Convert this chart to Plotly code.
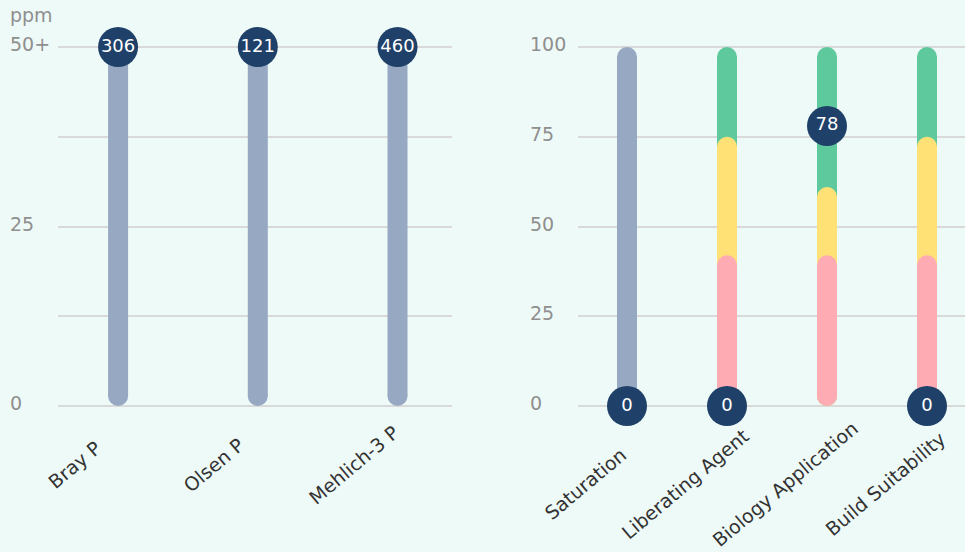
import plotly.graph_objects as go

# ---- data ----
left_categories = ["Bray P", "Olsen P", "Mehlich-3 P"]
left_values = [306, 121, 460]
left_cap = 50
left_tick_vals = [0, 25, 50]
left_tick_text = ["0", "25", "50+"]
left_unit = "ppm"

right_categories = ["Saturation", "Liberating Agent", "Biology Application", "Build Suitability"]
right_gray_top = [100, None, None, None]
right_green_top = [None, 100, 100, 100]
right_yellow_top = [None, 75, 61, 75]
right_pink_top = [None, 42, 42, 42]
right_marker_values = [0, 0, 78, 0]
right_tick_vals = [0, 25, 50, 75, 100]

# ---- style ----
W, H = 965, 552
Y_TOP_PX, Y_ZERO_PX = 47, 406        # pixel rows of the top and zero gridlines
PAD = 3                              # px of axis padding so edge gridlines are drawn
MT, MB = Y_TOP_PX - PAD, H - Y_ZERO_PX - PAD
PLOT_H = H - MT - MB
SPAN_PX = Y_ZERO_PX - Y_TOP_PX
BG = "#eefaf7"
GRID = "#d9d9d9"
NAVY = "#1f4068"
GRAY_BAR = "#97a9c2"
GREEN = "#5ec99d"
YELLOW = "#ffe176"
PINK = "#ffabb4"
TICK_COLOR = "#8f8f8f"
LABEL_COLOR = "#333333"
FONT = "DejaVu Sans"
FS = 19
BAR_W = 20

fig = go.Figure()


def yrange(top):
    u = top / SPAN_PX
    return [-PAD * u, top + PAD * u]


def add_bars(cats, tops, color, xaxis, yaxis, ytop):
    r = (BAR_W / 2) * ytop / SPAN_PX
    xs, ys = [], []
    for c, t in zip(cats, tops):
        if t is None:
            continue
        xs += [c, c, None]
        ys += [r, t - r, None]
    fig.add_trace(go.Scatter(
        x=xs, y=ys, mode="lines+markers",
        line=dict(color=color, width=BAR_W),
        marker=dict(color=color, size=BAR_W, line=dict(width=0)),
        xaxis=xaxis, yaxis=yaxis, hoverinfo="skip", showlegend=False,
        cliponaxis=False,
    ))


def add_markers(cats, ys, labels, xaxis, yaxis):
    fig.add_trace(go.Scatter(
        x=cats, y=ys, mode="markers+text", text=labels,
        textposition="middle center",
        textfont=dict(color="white", size=18, family=FONT),
        marker=dict(color=NAVY, size=40, line=dict(width=0)),
        xaxis=xaxis, yaxis=yaxis, hoverinfo="skip", showlegend=False,
        cliponaxis=False,
    ))


# left panel
add_bars(left_categories, [left_cap] * len(left_categories), GRAY_BAR, "x", "y", 50)
add_markers(left_categories, [min(v, left_cap) for v in left_values],
            [str(v) for v in left_values], "x", "y")

# right panel
add_bars(right_categories, right_gray_top, GRAY_BAR, "x2", "y2", 100)
add_bars(right_categories, right_green_top, GREEN, "x2", "y2", 100)
add_bars(right_categories, right_yellow_top, YELLOW, "x2", "y2", 100)
add_bars(right_categories, right_pink_top, PINK, "x2", "y2", 100)
add_markers(right_categories, right_marker_values,
            [str(v) for v in right_marker_values], "x2", "y2")


def paper_y(px):
    return (H - MB - px) / PLOT_H


annotations = []
for v, t in zip(left_tick_vals, left_tick_text):
    annotations.append(dict(x=8 / W, xref="paper", xanchor="left", y=v, yref="y",
                            yanchor="middle", yshift=3, text=t, showarrow=False,
                            font=dict(color=TICK_COLOR, size=FS, family=FONT)))
for v in right_tick_vals:
    annotations.append(dict(x=528 / W, xref="paper", xanchor="left", y=v, yref="y2",
                            yanchor="middle", yshift=3, text=str(v), showarrow=False,
                            font=dict(color=TICK_COLOR, size=FS, family=FONT)))
annotations.append(dict(x=8 / W, xref="paper", xanchor="left", y=paper_y(15),
                        yref="paper", yanchor="middle", text=left_unit, showarrow=False,
                        font=dict(color=TICK_COLOR, size=FS, family=FONT)))

for c in left_categories:
    annotations.append(dict(x=c, xref="x", y=paper_y(465), yref="paper",
                            xanchor="center", yanchor="middle", xshift=-44,
                            textangle=-40, text=c, showarrow=False,
                            font=dict(color=LABEL_COLOR, size=FS, family=FONT)))
for c in right_categories:
    annotations.append(dict(x=c, xref="x2", y=paper_y(484), yref="paper",
                            xanchor="center", yanchor="middle", xshift=-42,
                            textangle=-40, text=c, showarrow=False,
                            font=dict(color=LABEL_COLOR, size=FS, family=FONT)))

xaxis_common = dict(showline=False, zeroline=False, ticks="", showticklabels=False,
                    showgrid=False, automargin=False, fixedrange=True, type="category")
yaxis_common = dict(showline=False, zeroline=False, showticklabels=False, ticks="",
                    gridcolor=GRID, gridwidth=2, showgrid=True, automargin=False,
                    fixedrange=True)

fig.update_layout(
    width=W, height=H,
    margin=dict(l=0, r=0, t=MT, b=MB, autoexpand=False),
    paper_bgcolor=BG, plot_bgcolor=BG,
    font=dict(family=FONT),
    xaxis=dict(domain=[58 / W, 452 / W], range=[-0.43, 2.39], **xaxis_common),
    yaxis=dict(range=yrange(50), dtick=12.5, tick0=0, **yaxis_common),
    xaxis2=dict(domain=[578 / W, 1.0], range=[-0.49, 3.38], anchor="y2", **xaxis_common),
    yaxis2=dict(range=yrange(100), dtick=25, tick0=0, anchor="x2", **yaxis_common),
    annotations=annotations,
    showlegend=False,
)

fig.write_html("out.html", config={"displayModeBar": False},
               post_script="document.body.style.margin='0px';")
